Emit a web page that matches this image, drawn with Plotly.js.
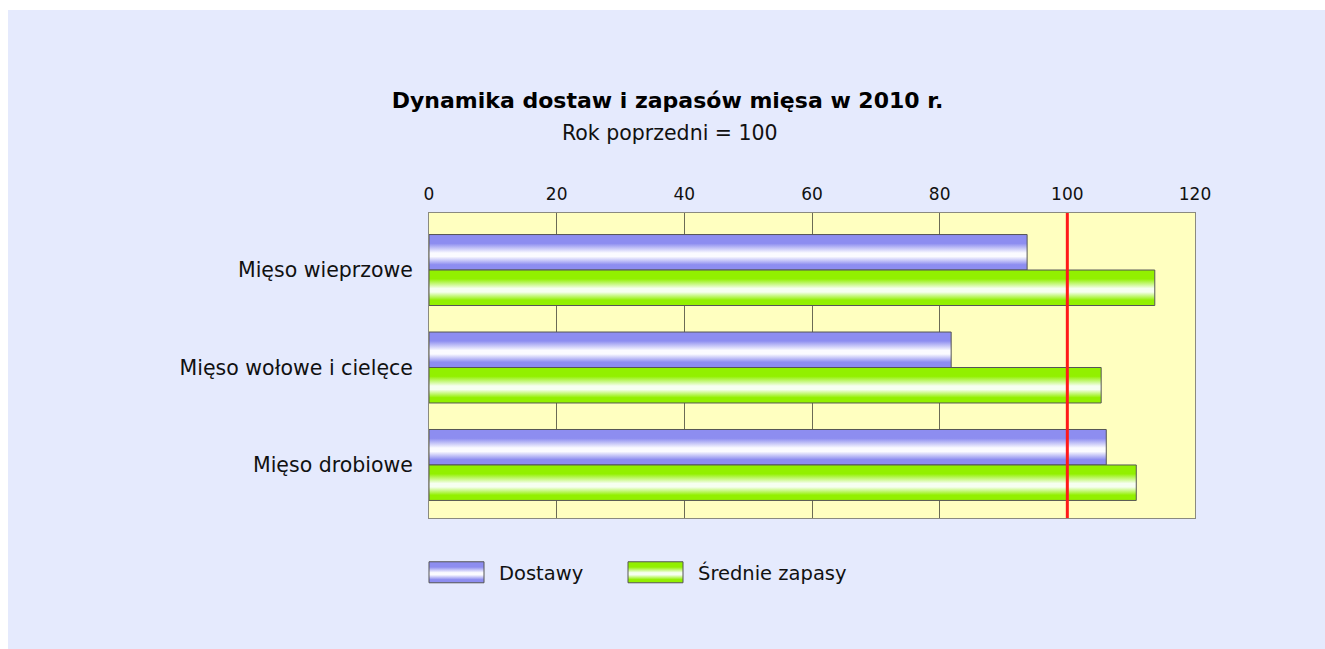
<!DOCTYPE html>
<html>
<head>
<meta charset="utf-8">
<script src="https://cdn.plot.ly/plotly-3.0.1.min.js"></script>
<style>
  html, body { margin: 0; padding: 0; background: #ffffff; }
  #chart { position: absolute; left: 8px; top: 10px; width: 1317px; height: 639px; }
</style>
</head>
<body>
<div id="chart"></div>
<script>
// ---- data ----
const categories = ['Mięso wieprzowe', 'Mięso wołowe i cielęce', 'Mięso drobiowe'];
const seriesNames = ['Dostawy', 'Średnie zapasy'];
const dostawy = [93.7, 81.8, 106.1];
const srednieZapasy = [113.7, 105.3, 110.8];
const xTickValues = [0, 20, 40, 60, 80, 100, 120];
const referenceLevel = 100;
const chartTitle = 'Dynamika dostaw i zapasów mięsa w 2010 r.';
const chartSubtitle = 'Rok poprzedni = 100';

const FONT = '"DejaVu Sans", Verdana, sans-serif';

const traces = [
  {
    type: 'bar', orientation: 'h', name: seriesNames[0],
    y: categories, x: dostawy,
    marker: { color: '#9a9af2', line: { color: '#555555', width: 1 } },
    hoverinfo: 'x+name'
  },
  {
    type: 'bar', orientation: 'h', name: seriesNames[1],
    y: categories, x: srednieZapasy,
    marker: { color: '#96f000', line: { color: '#555555', width: 1 } },
    hoverinfo: 'x+name'
  }
];

const layout = {
  width: 1317, height: 639,
  paper_bgcolor: '#e5eafd',
  plot_bgcolor: '#ffffc0',
  margin: { l: 421, r: 130, t: 203, b: 131 },
  font: { family: FONT, size: 20, color: '#111111' },
  barmode: 'group',
  bargap: 0.272,
  bargroupgap: 0,
  title: {
    text: '<b>' + chartTitle + '</b>',
    font: { family: FONT, size: 22, color: '#000000' },
    x: 0.5008, xref: 'container', xanchor: 'center',
    y: 1 - 90 / 639, yref: 'container', yanchor: 'middle'
  },
  annotations: [{
    text: chartSubtitle, showarrow: false,
    xref: 'paper', yref: 'paper',
    x: 0.314, xanchor: 'center',
    y: 1 + 80 / 305, yanchor: 'middle',
    font: { family: FONT, size: 20.5, color: '#111111' }
  }],
  xaxis: {
    side: 'top',
    range: [0, 120],
    tickvals: xTickValues,
    ticks: '',
    showgrid: true, gridcolor: '#6b6b55', gridwidth: 1,
    zeroline: false,
    showline: true, mirror: true, linecolor: '#8a8a80', linewidth: 1,
    tickfont: { family: FONT, size: 17, color: '#111111' },
    ticklabelstandoff: 5,
    fixedrange: true
  },
  yaxis: {
    type: 'category',
    range: [2.544, -0.585],
    ticks: '',
    showgrid: false, zeroline: false,
    showline: true, mirror: true, linecolor: '#8a8a80', linewidth: 1,
    tickfont: { family: FONT, size: 20.5, color: '#111111' },
    ticklabelstandoff: 11,
    fixedrange: true
  },
  shapes: [{
    type: 'line', xref: 'x', yref: 'paper',
    x0: referenceLevel, x1: referenceLevel, y0: 0, y1: 1,
    line: { color: '#ff1a1a', width: 3 },
    layer: 'above'
  }],
  legend: {
    orientation: 'h',
    x: 0, xanchor: 'left', xref: 'paper',
    y: -0.179, yanchor: 'middle', yref: 'paper',
    bgcolor: 'rgba(0,0,0,0)',
    font: { family: FONT, size: 19.5, color: '#111111' },
    itemwidth: 60,
    entrywidth: 124,
    entrywidthmode: 'pixels',
    itemclick: false, itemdoubleclick: false
  },
  showlegend: true
};

function addGradient(defs, id, edge, mid) {
  const NS = 'http://www.w3.org/2000/svg';
  const g = document.createElementNS(NS, 'linearGradient');
  g.setAttribute('id', id);
  g.setAttribute('x1', '0'); g.setAttribute('y1', '0');
  g.setAttribute('x2', '0'); g.setAttribute('y2', '1');
  const stops = [[0, edge], [0.25, edge], [0.52, mid], [0.62, mid], [0.85, edge], [1, edge]];
  stops.forEach(function (s) {
    const st = document.createElementNS(NS, 'stop');
    st.setAttribute('offset', s[0]);
    st.setAttribute('stop-color', s[1]);
    g.appendChild(st);
  });
  defs.appendChild(g);
}

function decorate(gd) {
  const svg = gd.querySelector('svg.main-svg');
  let defs = svg.querySelector('defs');
  if (!defs) { defs = document.createElementNS('http://www.w3.org/2000/svg', 'defs'); svg.insertBefore(defs, svg.firstChild); }
  addGradient(defs, 'gradBlue', '#8d8df0', '#fbfbff');
  addGradient(defs, 'gradGreen', '#92f000', '#f6fff0');
  const ids = ['gradBlue', 'gradGreen'];
  gd.querySelectorAll('.barlayer .trace').forEach(function (t, i) {
    t.querySelectorAll('path').forEach(function (p) { p.style.fill = 'url(#' + ids[i] + ')'; });
  });
  gd.querySelectorAll('.legend [clip-path]').forEach(function (el) { el.removeAttribute('clip-path'); });
  gd.querySelectorAll('.legend .traces').forEach(function (t, i) {
    t.querySelectorAll('.legendpoints path').forEach(function (p) {
      p.setAttribute('d', 'M-35,-10.5H20V10.5H-35Z');
      p.style.fill = 'url(#' + ids[i] + ')';
      p.style.stroke = '#555555';
      p.style.strokeWidth = '1px';
    });
  });
}

const gd = document.getElementById('chart');
Plotly.newPlot(gd, traces, layout, { displayModeBar: false }).then(decorate);
</script>
</body>
</html>
